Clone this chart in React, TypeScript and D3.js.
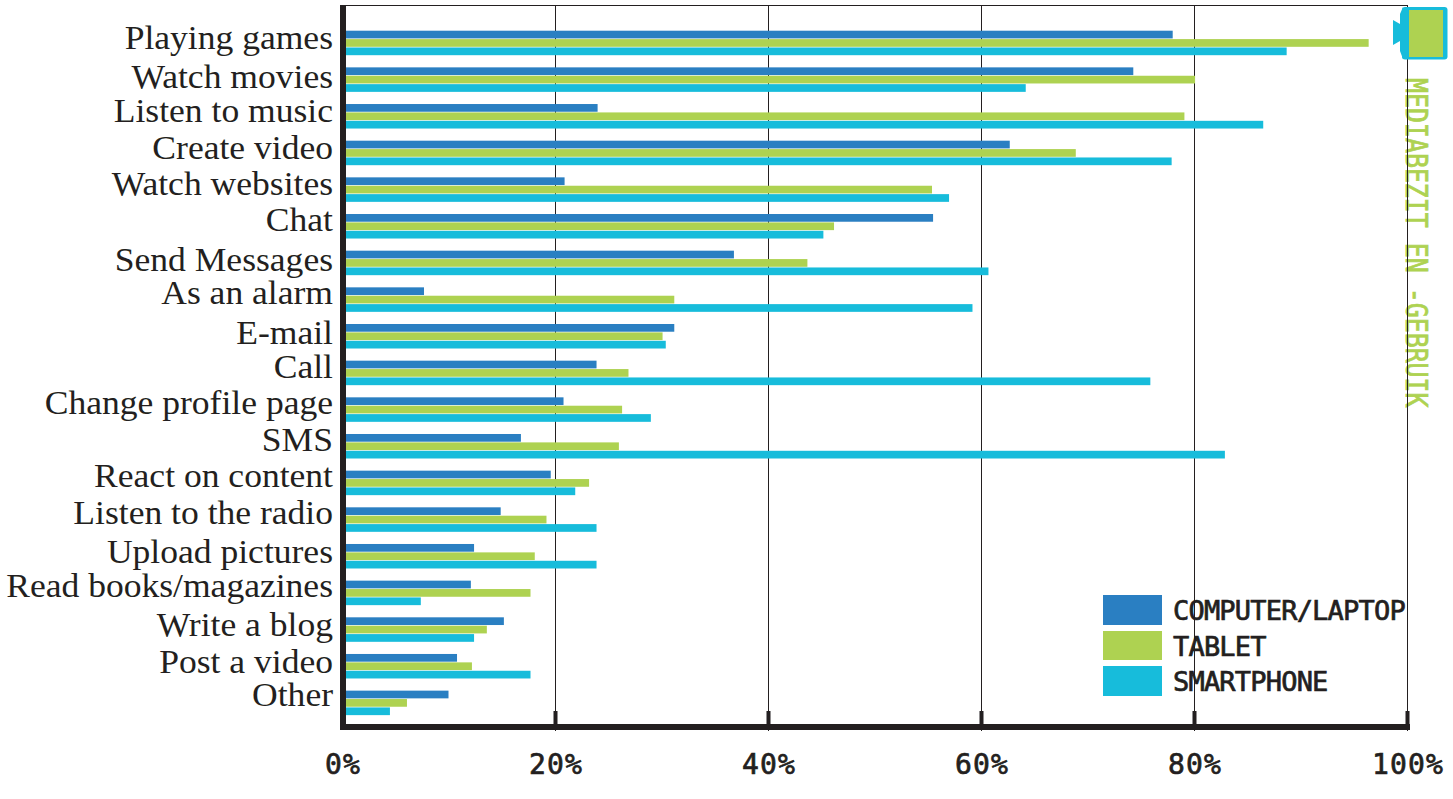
import React, { useEffect, useRef } from "react";
import * as d3 from "d3";

const categories = [
  "Playing games", "Watch movies", "Listen to music", "Create video", "Watch websites",
  "Chat", "Send Messages", "As an alarm", "E-mail", "Call", "Change profile page", "SMS",
  "React on content", "Listen to the radio", "Upload pictures", "Read books/magazines",
  "Write a blog", "Post a video", "Other",
];
const computer = [78.0, 74.3, 24.0, 62.7, 20.9, 55.5, 36.8, 7.7, 31.2, 23.9, 20.8, 16.8, 19.6, 14.9, 12.4, 12.1, 15.2, 10.8, 10.0];
const tablet = [96.4, 80.1, 79.1, 68.9, 55.4, 46.2, 43.7, 31.2, 30.1, 26.9, 26.3, 26.0, 23.2, 19.2, 18.1, 17.7, 13.6, 12.2, 6.1];
const smartphone = [88.7, 64.2, 86.5, 77.9, 57.0, 45.2, 60.7, 59.2, 30.4, 75.9, 29.0, 82.9, 21.9, 23.9, 23.9, 7.4, 12.4, 17.7, 4.5];
const seriesNames = ["COMPUTER/LAPTOP", "TABLET", "SMARTPHONE"];
const seriesColors = ["#2a7fc2", "#aed251", "#17bcdb"];
const ticks = [0, 20, 40, 60, 80, 100];
// the labels in the original sit a little off a regular grid
const labelNudge = [-1, 2, -1, -1, -1, -2, 1, -2, 1, -2, -2, -2, -2, -2, 0, -2, 0, 0, -3];

const dark = "#231f20";
const techFont = "'DejaVu Sans Mono', monospace";

export default function App() {
  const svgRef = useRef<SVGSVGElement | null>(null);

  useEffect(() => {
    if (!svgRef.current) return;
    const svg = d3.select(svgRef.current);
    svg.selectAll("*").remove();

    const x = d3.scaleLinear().domain([0, 100]).range([342, 1407]);
    const y = d3.scaleBand().domain(categories).range([24.2, 720.8]).paddingInner(0);
    const inner = d3.scaleBand().domain(seriesNames).range([6.5, 31]).paddingInner(0.08);
    const series = [computer, tablet, smartphone];

    // vertical title goes under the grid lines
    svg.append("text")
      .attr("transform", "translate(1406,78) rotate(90) scale(0.83,1)")
      .attr("font-family", techFont).attr("font-size", 30)
      .attr("fill", seriesColors[1])
      .attr("stroke", seriesColors[1]).attr("stroke-width", 0.8)
      .text("MEDIABEZIT EN -GEBRUIK");

    // grid
    svg.selectAll(".grid").data(ticks.slice(1)).join("line")
      .attr("x1", d => x(d) + 0.5).attr("x2", d => x(d) + 0.5)
      .attr("y1", 5).attr("y2", 731)
      .attr("stroke", dark).attr("stroke-width", 1);
    svg.append("line").attr("x1", 342).attr("x2", 1408).attr("y1", 5.5).attr("y2", 5.5)
      .attr("stroke", dark).attr("stroke-width", 1);

    // bars
    series.forEach((vals, s) => {
      svg.append("g").selectAll("rect").data(vals).join("rect")
        .attr("x", 345)
        .attr("y", (_, i) => (y(categories[i]) || 0) + (inner(seriesNames[s]) || 0))
        .attr("width", d => x(d) - 345)
        .attr("height", inner.bandwidth())
        .attr("fill", seriesColors[s]);
    });

    // axis lines
    svg.append("rect").attr("x", 340).attr("y", 5).attr("width", 6).attr("height", 725).attr("fill", dark);
    svg.append("rect").attr("x", 340).attr("y", 724).attr("width", 1070).attr("height", 6).attr("fill", dark);
    svg.selectAll(".tick").data(ticks.slice(1)).join("rect")
      .attr("x", d => x(d) - 1.5).attr("y", 711).attr("width", 4).attr("height", 14).attr("fill", dark);

    // category labels, stretched a bit sideways since the original face is wider
    svg.append("g").selectAll("text").data(categories).join("text")
      .attr("transform", (d, i) =>
        `translate(333,${(y(d) || 0) + y.bandwidth() / 2 + 7 + labelNudge[i]}) scale(1.04,1)`)
      .attr("text-anchor", "end")
      .attr("font-family", "'Liberation Serif', serif")
      .attr("font-size", 34.2)
      .attr("fill", dark)
      .text(d => d);

    // tick labels
    svg.append("g").selectAll("text").data(ticks).join("text")
      .attr("x", d => x(d) + 1)
      .attr("y", 774)
      .attr("text-anchor", "middle")
      .attr("font-family", techFont)
      .attr("font-size", 28)
      .attr("letter-spacing", 1.2)
      .attr("stroke", dark).attr("stroke-width", 0.7)
      .attr("fill", dark)
      .text(d => `${d}%`);

    // legend
    const legend = svg.append("g").selectAll("g").data(seriesNames).join("g")
      .attr("transform", (_, i) => `translate(1103,${[595, 631, 666][i]})`);
    legend.append("rect").attr("width", 59).attr("height", (_, i) => [30, 29, 30][i]).attr("fill", (_, i) => seriesColors[i]);
    legend.append("text").attr("x", 70).attr("y", 25)
      .attr("font-family", techFont).attr("font-size", 27)
      .attr("letter-spacing", -0.8)
      .attr("stroke", dark).attr("stroke-width", 0.7)
      .attr("fill", dark).text(d => d);

    // camera icon
    svg.append("path")
      .attr("d", "M1403,7 L1400,14 L1400,24 L1393,20 L1393,45 L1400,41 L1400,51 L1403,59 Z")
      .attr("fill", seriesColors[2]);
    svg.append("rect").attr("x", 1402).attr("y", 7).attr("width", 45.5).attr("height", 52.5).attr("rx", 3).attr("fill", seriesColors[2]);
    svg.append("rect").attr("x", 1409).attr("y", 10).attr("width", 34).attr("height", 47).attr("fill", seriesColors[1]);
  }, []);

  return (
    <svg
      ref={svgRef}
      width={1453}
      height={799}
      style={{ position: "fixed", left: 0, top: 0, background: "#fff" }}
    />
  );
}
